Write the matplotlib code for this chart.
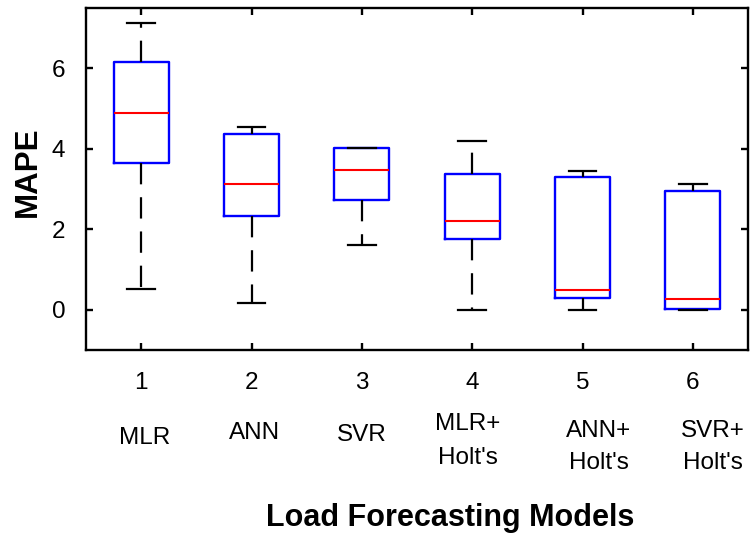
import matplotlib.pyplot as plt
from matplotlib.transforms import blended_transform_factory

plt.rcParams['font.family'] = ['Liberation Sans', 'DejaVu Sans']

positions = [1, 2, 3, 4, 5, 6]
tick_labels = ['1', '2', '3', '4', '5', '6']
model_names = ['MLR', 'ANN', 'SVR', "MLR+\nHolt's", "ANN+\nHolt's", "SVR+\nHolt's"]
name_x = [1.03, 2.03, 3.0, 3.96, 5.15, 6.18]
name_y = [438, 433, 435, 441, 447, 447]
name_spacing = [1.55, 1.55, 1.55, 1.75, 1.55, 1.55]

whis_low = [0.52, 0.17, 1.60, 0.00, 0.00, 0.00]
q1 = [3.65, 2.33, 2.73, 1.77, 0.29, 0.02]
median = [4.89, 3.13, 3.47, 2.21, 0.50, 0.26]
q3 = [6.15, 4.37, 4.03, 3.37, 3.30, 2.96]
whis_high = [7.12, 4.54, 4.03, 4.19, 3.46, 3.13]

stats = []
for i in range(len(positions)):
    stats.append({'whislo': whis_low[i], 'q1': q1[i], 'med': median[i],
                  'q3': q3[i], 'whishi': whis_high[i], 'fliers': []})

fig = plt.figure(figsize=(7.5, 5.38), dpi=100)
ax = fig.add_axes([86/750, 1 - 350/538, 662/750, 342/538])

ax.bxp(stats, positions=positions, widths=0.5, showfliers=False,
       boxprops=dict(color='#0000ff', linewidth=1.7),
       medianprops=dict(color='#ff0000', linewidth=1.5),
       whiskerprops=dict(color='black', linewidth=1.6, linestyle=(0, (9.6, 5.8))),
       capprops=dict(color='black', linewidth=1.6))

ax.set_xlim(0.5, 6.5)
ax.set_ylim(-1, 7.5)
ax.set_yticks([0, 2, 4, 6])
ax.set_xticks(positions)
ax.set_xticklabels(tick_labels)

for s in ax.spines.values():
    s.set_linewidth(1.7)
ax.tick_params(direction='in', length=5, width=1.7, top=True, right=True,
               labelsize=17.5)
ax.tick_params(axis='x', pad=16)
ax.tick_params(axis='y', pad=15)

trans = blended_transform_factory(ax.transData, fig.transFigure)
for x, y, name, sp in zip(name_x, name_y, model_names, name_spacing):
    ax.text(x, 1 - y/538, name, transform=trans, ha='center', va='center',
            fontsize=17.5, linespacing=sp)

ax.set_ylabel('MAPE', fontsize=22.5, fontweight='bold')
ax.set_xlabel('Load Forecasting Models', fontsize=22, fontweight='bold')
ax.yaxis.set_label_coords((28 - 86)/662, (350 - 172)/342)
ax.yaxis.label.set_va('center')
ax.xaxis.set_label_coords((450 - 86)/662, (350 - 518)/342)
ax.xaxis.label.set_va('center')

fig.savefig('out.png', dpi=100)
